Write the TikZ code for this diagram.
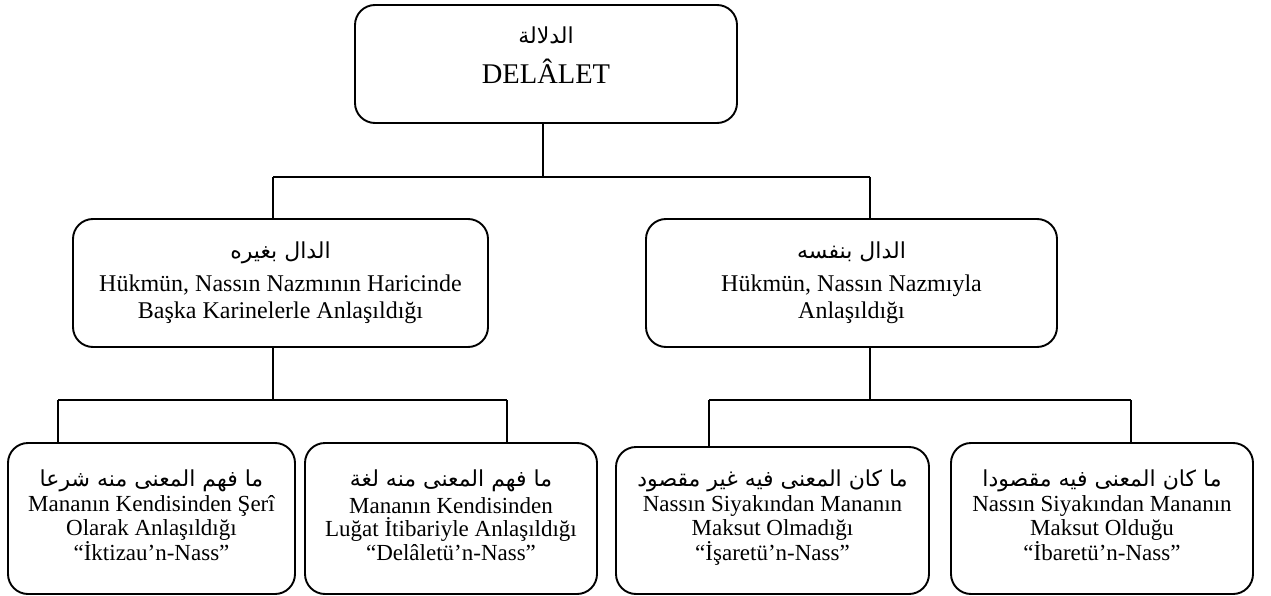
\documentclass[tikz,border=0pt]{standalone}
\usepackage{fontspec}
\setmainfont{Liberation Serif}
\newfontfamily\arabicfont[Script=Arabic]{DejaVu Sans}
\TeXXeTstate=1
\begin{document}
\begin{tikzpicture}[x=1pt,y=-1pt]
\tikzset{
  box/.style={draw, line width=1.9pt, rounded corners=20pt, inner sep=0pt, outer sep=0pt},
  ar/.style={anchor=base, inner sep=0pt, font=\arabicfont\fontsize{22}{26}\selectfont},
  trtop/.style={anchor=base, inner sep=0pt, font=\fontsize{28.5}{34}\selectfont},
  trmid/.style={anchor=base, align=center, inner sep=0pt, font=\fontsize{24}{26.7}\selectfont},
  trbot/.style={anchor=base, align=center, inner sep=0pt, font=\fontsize{23}{23.5}\selectfont},
  link/.style={line width=1.6pt}
}
\useasboundingbox (0,0) rectangle (1271,596);
% boxes
\node[box, minimum width=382pt, minimum height=118pt] (top) at (546,64) {};
\node[box, minimum width=415pt, minimum height=128pt] (midL) at (280.5,283) {};
\node[box, minimum width=411pt, minimum height=128pt] (midR) at (851.5,283) {};
\node[box, minimum width=287pt, minimum height=151pt] (b1) at (151.5,518.5) {};
\node[box, minimum width=292pt, minimum height=151pt] (b2) at (451,518.5) {};
\node[box, minimum width=313pt, minimum height=147pt] (b3) at (772.5,520.5) {};
\node[box, minimum width=302pt, minimum height=151pt] (b4) at (1102,518.5) {};
% texts (multi-line nodes are placed by the baseline of their last line)
\node[ar] (topA) at (546,44) {\beginR الدلالة\endR};
\node[trtop] (topT) at (546,84) {DELÂLET};
\node[ar] (midLA) at (280.5,258) {\beginR الدال بغيره\endR};
\node[trmid] (midLT) at (280.5,318.5) {Hükmün, Nassın Nazmının Haricinde\\Başka Karinelerle Anlaşıldığı};
\node[ar] (midRA) at (851.5,258) {\beginR الدال بنفسه\endR};
\node[trmid] (midRT) at (851.5,318.5) {Hükmün, Nassın Nazmıyla\\Anlaşıldığı};
\node[ar] (b1A) at (151.5,486) {\beginR ما فهم المعنى منه شرعا\endR};
\node[trbot] (b1T) at (151.5,560) {Mananın Kendisinden Şerî\\Olarak Anlaşıldığı\\“İktizau’n-Nass”};
\node[ar] (b2A) at (451,486) {\beginR ما فهم المعنى منه لغة\endR};
\node[trbot] (b2T) at (451,560) {Mananın Kendisinden\\Luğat İtibariyle Anlaşıldığı\\“Delâletü’n-Nass”};
\node[ar] (b3A) at (772.5,486) {\beginR ما كان المعنى فيه غير مقصود\endR};
\node[trbot] (b3T) at (772.5,560) {Nassın Siyakından Mananın\\Maksut Olmadığı\\“İşaretü’n-Nass”};
\node[ar] (b4A) at (1102,486) {\beginR ما كان المعنى فيه مقصودا\endR};
\node[trbot] (b4T) at (1102,560) {Nassın Siyakından Mananın\\Maksut Olduğu\\“İbaretü’n-Nass”};
% connectors
\coordinate (tj) at (543,177);
\coordinate (hL) at (273,177);
\coordinate (hR) at (870,177);
\coordinate (lL1) at (58,400);
\coordinate (lL2) at (507,400);
\coordinate (lR1) at (709,400);
\coordinate (lR2) at (1131,400);
\draw[link] (tj |- top.south) -- (tj);
\draw[link] (hL) -- (hR);
\draw[link] (hL) -- (hL |- midL.north);
\draw[link] (hR) -- (hR |- midR.north);
\draw[link] (hL |- midL.south) -- (hL |- lL1);
\draw[link] (hR |- midR.south) -- (hR |- lR1);
\draw[link] (lL1) -- (lL2);
\draw[link] (lR1) -- (lR2);
\draw[link] (lL1) -- (lL1 |- b1.north);
\draw[link] (lL2) -- (lL2 |- b2.north);
\draw[link] (lR1) -- (lR1 |- b3.north);
\draw[link] (lR2) -- (lR2 |- b4.north);
\end{tikzpicture}
\end{document}
